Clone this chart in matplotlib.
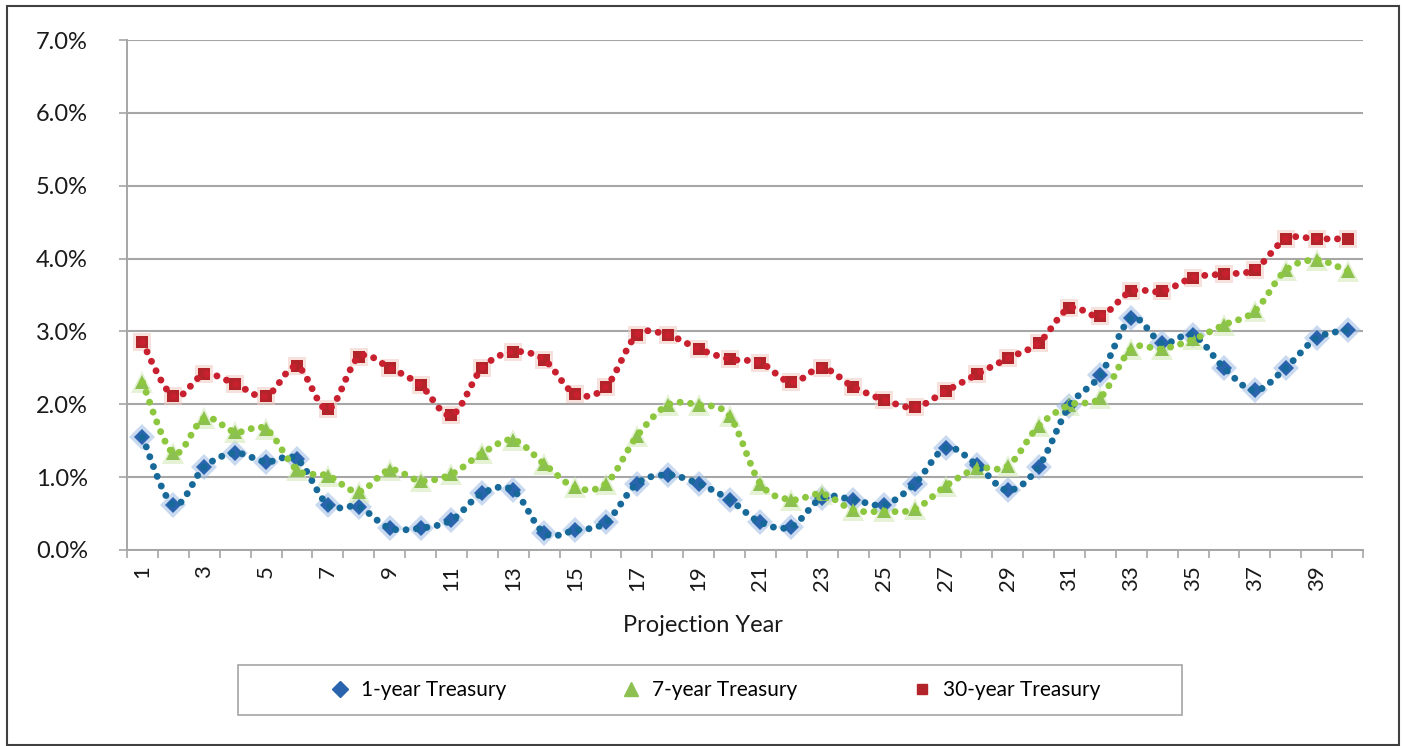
import numpy as np
import matplotlib
matplotlib.use("Agg")
import matplotlib.pyplot as plt
from matplotlib.path import Path
from matplotlib.patches import PathPatch, Rectangle
from matplotlib.lines import Line2D
from matplotlib.ticker import FuncFormatter

plt.rcParams['font.family'] = ['Lato', 'DejaVu Sans']

years = list(range(1, 41))
one_year = [1.55, 0.62, 1.14, 1.33, 1.21, 1.25, 0.62, 0.59, 0.30, 0.30,
            0.41, 0.78, 0.82, 0.23, 0.27, 0.38, 0.91, 1.03, 0.91, 0.69,
            0.38, 0.32, 0.72, 0.69, 0.62, 0.91, 1.40, 1.17, 0.82, 1.14,
            1.98, 2.40, 3.18, 2.84, 2.95, 2.50, 2.19, 2.50, 2.91, 3.02]
seven_year = [2.30, 1.33, 1.81, 1.62, 1.66, 1.10, 1.02, 0.80, 1.10, 0.95,
              1.04, 1.33, 1.51, 1.18, 0.86, 0.91, 1.56, 1.99, 1.99, 1.84,
              0.91, 0.69, 0.77, 0.55, 0.53, 0.56, 0.88, 1.12, 1.15, 1.70,
              1.99, 2.09, 2.76, 2.76, 2.89, 3.09, 3.28, 3.84, 3.98, 3.83]
thirty_year = [2.85, 2.11, 2.41, 2.28, 2.11, 2.52, 1.93, 2.65, 2.50, 2.26,
               1.85, 2.50, 2.72, 2.61, 2.14, 2.24, 2.95, 2.95, 2.76, 2.62,
               2.57, 2.30, 2.50, 2.24, 2.06, 1.96, 2.18, 2.41, 2.63, 2.84,
               3.32, 3.21, 3.55, 3.55, 3.74, 3.79, 3.85, 4.27, 4.27, 4.27]
labels = ['1-year Treasury', '7-year Treasury', '30-year Treasury']
yticks = [0, 1, 2, 3, 4, 5, 6, 7]

W, H = 1403, 746
fig = plt.figure(figsize=(W / 100, H / 100), dpi=100)
ax = fig.add_axes([127 / W, 1 - 550 / H, (1363 - 127) / W, (550 - 40) / H])


def smooth_path(x, y):
    x = np.asarray(x, float)
    y = np.asarray(y, float)
    n = len(x)
    verts = [(x[0], y[0])]
    codes = [Path.MOVETO]
    for i in range(n - 1):
        xm, ym = (x[i - 1], y[i - 1]) if i > 0 else (x[i], y[i])
        xp, yp = (x[i + 2], y[i + 2]) if i + 2 < n else (x[i + 1], y[i + 1])
        c1 = (x[i] + (x[i + 1] - xm) / 6, y[i] + (y[i + 1] - ym) / 6)
        c2 = (x[i + 1] - (xp - x[i]) / 6, y[i + 1] - (yp - y[i]) / 6)
        verts += [c1, c2, (x[i + 1], y[i + 1])]
        codes += [Path.CURVE4] * 3
    return Path(verts, codes)


series = [
    (one_year, 'D', '#2A64AE', '#17699A', '#9DBCE4', 8.5),
    (seven_year, '^', '#8CC152', '#8DC63F', '#D3E8B5', 10.5),
    (thirty_year, 's', '#B3242A', '#C8202F', '#F2C9C0', 8.5),
]

for vals, mk, mcol, lcol, glow, ms in series:
    ax.plot(years, vals, linestyle='none', marker=mk, markersize=ms + 5,
            color=glow, alpha=0.55, markeredgewidth=0, zorder=3)
    ax.plot(years, vals, linestyle='none', marker=mk, markersize=ms,
            color=mcol, markeredgewidth=0, zorder=4)
    patch = PathPatch(smooth_path(years, vals), facecolor='none', edgecolor=lcol,
                      linewidth=5.0, linestyle=(0, (0.01, 1.5)),
                      capstyle='round', zorder=5)
    ax.add_patch(patch)

ax.set_xlim(0.5, 40.5)
ax.set_ylim(0, 7)
ax.set_yticks(yticks)
ax.yaxis.set_major_formatter(FuncFormatter(lambda v, p: f"{v:.1f}%"))
ax.set_xticks(years[::2])
ax.set_xticklabels([str(v) for v in years[::2]])
ax.set_xticks(np.arange(0.5, 41, 1), minor=True)
ax.tick_params(axis='x', which='major', length=0, pad=11, labelsize=16,
               labelrotation=90, labelcolor='#1a1a1a')
ax.tick_params(axis='x', which='minor', length=6, width=1.2, color='#A6A6A6')
ax.tick_params(axis='y', which='major', length=6, width=1.2, color='#A6A6A6',
               pad=22, labelsize=17, labelcolor='#1a1a1a')
ax.grid(axis='y', color='#A6A6A6', linewidth=1.5, zorder=0)
ax.set_axisbelow(True)
for s in ['top', 'right']:
    ax.spines[s].set_visible(False)
for s in ['left', 'bottom']:
    ax.spines[s].set_color('#A6A6A6')
    ax.spines[s].set_linewidth(1.4)

fig.text(703 / W, 1 - 626 / H, 'Projection Year', ha='center', va='center',
         fontsize=17, color='#1a1a1a')

# legend
fig.patches.append(Rectangle((238 / W, 1 - 715 / H), (1182 - 238) / W, 50 / H,
                             transform=fig.transFigure, facecolor='white',
                             edgecolor='#A6A6A6', linewidth=1.2))
handles = [Line2D([], [], linestyle='none', marker=s[1], color=s[2],
                  markersize=s[5] * 0.9) for s in series]
fig.legend(handles, labels, loc='center', bbox_to_anchor=(716 / W, 1 - 690 / H),
           ncol=3, frameon=False, fontsize=15, handlelength=0.8,
           handletextpad=0.6, columnspacing=5.6)

# outer border
fig.patches.append(Rectangle((7 / W, 1 - 745 / H), (1399 - 7) / W, (745 - 6) / H,
                             transform=fig.transFigure, facecolor='none',
                             edgecolor='#404040', linewidth=1.5))

fig.savefig('out.png', dpi=100)
